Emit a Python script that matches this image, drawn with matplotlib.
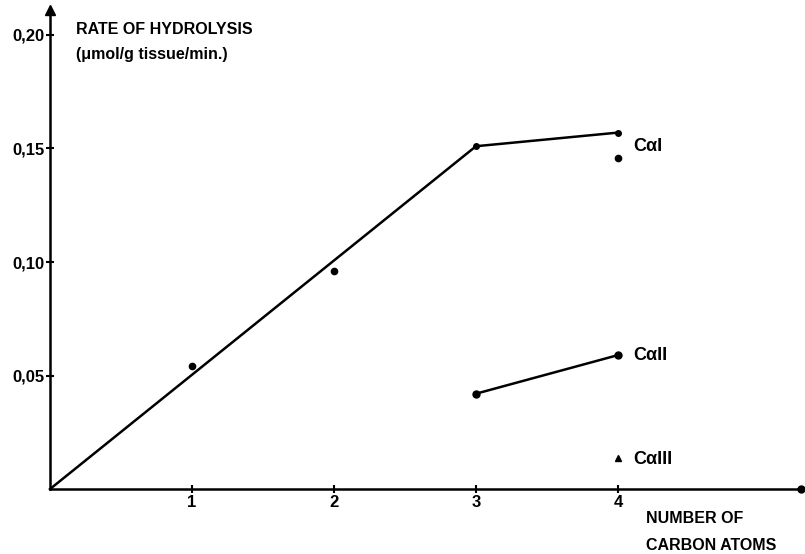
"""
Rate of hydrolysis vs number of carbon atoms.
"""

import matplotlib
matplotlib.use("Agg")
import matplotlib.pyplot as plt

plt.rcParams['font.family'] = ['Liberation Sans', 'DejaVu Sans']

# data
line1_x = [0, 3, 4]
line1_y = [0.0, 0.151, 0.157]
dots1_x = [1, 2, 4]
dots1_y = [0.054, 0.096, 0.146]
line2_x = [3, 4]
line2_y = [0.042, 0.059]
tri3_x = [4]
tri3_y = [0.0137]

x_ticks = [1, 2, 3, 4]
y_ticks = [0.05, 0.10, 0.15, 0.20]
y_ticklabels = ["0,05", "0,10", "0,15", "0,20"]

fig = plt.figure(figsize=(8.05, 5.54), dpi=100)
ax = fig.add_axes([0, 0, 1, 1])
ax.set_xlim(-0.352, 5.317)
ax.set_ylim(-0.0286, 0.2154)

# axes drawn through the origin
for side in ("top", "right"):
    ax.spines[side].set_visible(False)
ax.spines['left'].set_position(('data', 0))
ax.spines['bottom'].set_position(('data', 0))
ax.spines['left'].set_bounds(0, 0.211)
ax.spines['bottom'].set_bounds(0, 5.29)
ax.spines['left'].set_linewidth(1.8)
ax.spines['bottom'].set_linewidth(1.8)
ax.plot([0], [0.211], marker='^', color='black', markersize=7, clip_on=False)
ax.plot([5.29], [0], marker='o', color='black', markersize=5, clip_on=False)

ax.set_xticks(x_ticks)
ax.set_xticklabels([str(t) for t in x_ticks])
ax.set_yticks(y_ticks)
ax.set_yticklabels(y_ticklabels)
ax.tick_params(direction='inout', length=6, width=1.5, labelsize=12, pad=1)
for lbl in ax.get_xticklabels() + ax.get_yticklabels():
    lbl.set_fontweight('bold')

# series
ax.plot(line1_x, line1_y, color='black', linewidth=1.8)
ax.plot(line1_x[1:], line1_y[1:], 'o', color='black', markersize=4)
ax.plot(dots1_x, dots1_y, 'o', color='black', markersize=4.5)
ax.plot(line2_x, line2_y, color='black', linewidth=1.8, marker='o', markersize=5)
ax.plot(tri3_x, tri3_y, '^', color='black', markersize=5)

# labels
tkw = dict(fontsize=11.5, fontweight='bold', color='black')
ax.text(0.18, 0.2026, "RATE OF HYDROLYSIS", va='center', ha='left', **tkw)
ax.text(0.18, 0.1912, "(\u03bcmol/g tissue/min.)", va='center', ha='left', **tkw)
ax.text(4.2, -0.0128, "NUMBER OF", va='center', ha='left', **tkw)
ax.text(4.2, -0.0247, "CARBON ATOMS", va='center', ha='left', **tkw)
ckw = dict(fontsize=13, fontweight='bold', color='black')
ax.text(4.11, 0.151, "C\u03b1I", va='center', ha='left', **ckw)
ax.text(4.11, 0.059, "C\u03b1II", va='center', ha='left', **ckw)
ax.text(4.11, 0.0132, "C\u03b1III", va='center', ha='left', **ckw)

fig.savefig("out.png", dpi=100)
plt.close(fig)
